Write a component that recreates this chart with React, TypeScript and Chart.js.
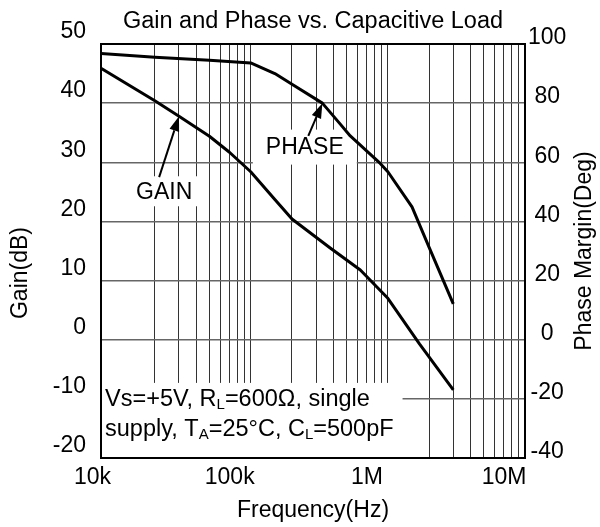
import React, { useEffect, useRef } from 'react';
import { Chart, registerables } from 'chart.js';

Chart.register(...registerables);

// ---- data ----
const FREQ_MIN = 8100;
const FREQ_MAX = 1e7;
const FREQ_GRID = [
  1e4, 2e4, 3e4, 4e4, 5e4, 6e4, 7e4, 8e4, 9e4,
  1e5, 2e5, 3e5, 4e5, 5e5, 6e5, 7e5, 8e5, 9e5,
  1e6, 2e6, 3e6, 4e6, 5e6, 6e6, 7e6, 8e6, 9e6, 1e7,
];
const FREQ_LABELS: Record<number, string> = { 10000: '10k', 100000: '100k', 1000000: '1M', 10000000: '10M' };
const GAIN_MIN = -20;
const GAIN_MAX = 50;
const PHASE_MIN = -40;
const PHASE_MAX = 100;

const gainFreq = [8100, 20000, 30000, 50000, 70000, 100000, 150000, 200000, 380000, 630000, 1000000, 1700000, 3000000];
const gainDb = [45.9, 40.4, 37.8, 34.4, 31.7, 28.4, 23.7, 20.4, 15.5, 11.8, 7.0, -0.7, -8.5];

const phaseFreq = [8100, 20000, 50000, 100000, 150000, 200000, 333000, 450000, 532000, 880000, 1000000, 1500000, 2000000, 3000000];
const phaseDeg = [96.8, 95.5, 94.5, 93.6, 90.0, 86.4, 80.0, 72.9, 68.9, 59.6, 56.8, 44.9, 31.2, 12.1];

const TITLE = 'Gain and Phase vs. Capacitive Load';
const X_TITLE = 'Frequency(Hz)';
const Y_TITLE = 'Gain(dB)';
const Y2_TITLE = 'Phase Margin(Deg)';

// annotation text
const NOTE_LINES: [string, boolean][][] = [
  [['Vs=+5V, R', false], ['L', true], ['=600Ω, single', false]],
  [['supply, T', false], ['A', true], ['=25°C, C', false], ['L', true], ['=500pF', false]],
];

const FONT = '"Liberation Sans", Arial, Helvetica, sans-serif';

function drawArrow(ctx: CanvasRenderingContext2D, x0: number, y0: number, x1: number, y1: number) {
  const ang = Math.atan2(y1 - y0, x1 - x0);
  const len = 15;
  const hw = 5;
  const bx = x1 - len * Math.cos(ang);
  const by = y1 - len * Math.sin(ang);
  ctx.strokeStyle = '#000';
  ctx.lineWidth = 2;
  ctx.beginPath();
  ctx.moveTo(x0, y0);
  ctx.lineTo(bx, by);
  ctx.stroke();
  ctx.fillStyle = '#000';
  ctx.beginPath();
  ctx.moveTo(x1, y1);
  ctx.lineTo(bx + hw * Math.sin(ang), by - hw * Math.cos(ang));
  ctx.lineTo(bx - hw * Math.sin(ang), by + hw * Math.cos(ang));
  ctx.closePath();
  ctx.fill();
}

const decorPlugin = {
  id: 'decor',
  beforeDatasetsDraw(chart: any) {
    const { ctx, chartArea: a, scales } = chart;
    const x = scales.x, y = scales.y, y1 = scales.y1;
    ctx.save();
    ctx.font = `23px ${FONT}`;
    ctx.textBaseline = 'middle';
    ctx.textAlign = 'center';

    // GAIN label
    const gx = x.getPixelForValue(23400), gy = y.getPixelForValue(25.1);
    const gw = ctx.measureText('GAIN').width;
    ctx.fillStyle = '#fff';
    ctx.fillRect(gx - gw / 2 - 16, gy - 15, gw + 32, 30);
    ctx.fillStyle = '#000';
    ctx.fillText('GAIN', gx, gy + 1);
    drawArrow(ctx, x.getPixelForValue(21500), y.getPixelForValue(27.5),
      x.getPixelForValue(gainFreq[2]), y.getPixelForValue(gainDb[2]));

    // PHASE label
    const px = x.getPixelForValue(248000), py = y1.getPixelForValue(65.3);
    const pw = ctx.measureText('PHASE').width;
    ctx.fillStyle = '#fff';
    ctx.fillRect(px - pw / 2 - 13, py - 17, pw + 26, 35);
    ctx.fillStyle = '#000';
    ctx.fillText('PHASE', px, py + 1);
    drawArrow(ctx, x.getPixelForValue(263000), y1.getPixelForValue(68.9),
      x.getPixelForValue(phaseFreq[6]), y1.getPixelForValue(phaseDeg[6]));

    // condition box
    const bxR = x.getPixelForValue(1280000);
    const byT = y.getPixelForValue(-7.3);
    ctx.fillStyle = '#fff';
    ctx.fillRect(a.left, byT, bxR - a.left, a.bottom - byT);
    ctx.fillStyle = '#000';
    ctx.textAlign = 'left';
    const lineVals = [-10.0, -15.0];
    NOTE_LINES.forEach((segs, i) => {
      let cx = x.getPixelForValue(8670);
      const cy = y.getPixelForValue(lineVals[i]);
      segs.forEach(([t, sub]) => {
        ctx.font = sub ? `15px ${FONT}` : `23.5px ${FONT}`;
        ctx.fillText(t, cx, sub ? cy + 6 : cy + 1);
        cx += ctx.measureText(t).width;
      });
    });

    // plot frame
    ctx.strokeStyle = '#000';
    ctx.lineWidth = 2;
    ctx.strokeRect(a.left, a.top, a.right - a.left, a.bottom - a.top);
    ctx.restore();
  },
  afterDraw(chart: any) {
    const { ctx, chartArea: a, scales } = chart;
    const midY = (a.top + a.bottom) / 2;
    ctx.save();
    ctx.font = `23px ${FONT}`;
    ctx.fillStyle = '#000';
    ctx.textAlign = 'center';
    ctx.textBaseline = 'middle';
    // right axis title (reads bottom to top)
    ctx.save();
    ctx.translate(scales.y1.right - 15, midY);
    ctx.rotate(-Math.PI / 2);
    ctx.fillText(Y2_TITLE, 0, 0);
    ctx.restore();
    // left axis title, sits a little below the middle
    ctx.save();
    ctx.translate(scales.y.left + 20.5, midY + 22);
    ctx.rotate(-Math.PI / 2);
    ctx.fillText(Y_TITLE, 0, 0);
    ctx.restore();
    ctx.restore();
  },
};

export default function App() {
  const ref = useRef<HTMLCanvasElement>(null);
  useEffect(() => {
    if (!ref.current) return;
    Chart.defaults.font.family = FONT;
    Chart.defaults.color = '#000';
    const chart = new Chart(ref.current, {
      type: 'line',
      data: {
        datasets: [
          {
            label: 'Gain',
            data: gainFreq.map((f, i) => ({ x: f, y: gainDb[i] })),
            yAxisID: 'y',
            borderColor: '#000',
            borderWidth: 3,
            pointRadius: 0,
            tension: 0,
            borderJoinStyle: 'round',
          },
          {
            label: 'Phase',
            data: phaseFreq.map((f, i) => ({ x: f, y: phaseDeg[i] })),
            yAxisID: 'y1',
            borderColor: '#000',
            borderWidth: 3,
            pointRadius: 0,
            tension: 0,
            borderJoinStyle: 'round',
          },
        ],
      },
      options: {
        responsive: false,
        animation: false,
        layout: { padding: 0 },
        plugins: {
          legend: { display: false },
          tooltip: { enabled: false },
          title: {
            display: true,
            fullSize: false,
            text: TITLE,
            color: '#000',
            font: { size: 23.5, weight: 'normal' },
            padding: { top: 7.5, bottom: 8.3 },
          },
        },
        scales: {
          x: {
            type: 'logarithmic',
            min: FREQ_MIN,
            max: FREQ_MAX,
            afterBuildTicks: (s: any) => { s.ticks = FREQ_GRID.map((v) => ({ value: v })); },
            afterFit: (s: any) => { s.height = 69; },
            border: { display: false },
            grid: {
              drawTicks: false,
              color: (c: any) => (c.tick && c.tick.value === 1e4 ? 'rgba(0,0,0,0)' : '#333'),
              lineWidth: 1,
            },
            ticks: {
              autoSkip: false,
              maxRotation: 0,
              padding: 5.7,
              labelOffset: -21,
              font: { size: 23 },
              color: '#000',
              callback: (v: any) => FREQ_LABELS[Number(v)] ?? '',
            },
            title: { display: true, text: X_TITLE, font: { size: 23 }, color: '#000', padding: { top: 0, bottom: 2.2 } },
          },
          y: {
            type: 'linear',
            position: 'left',
            min: GAIN_MIN,
            max: GAIN_MAX,
            afterFit: (s: any) => { s.width = 101; },
            border: { display: false },
            grid: { drawTicks: false, color: '#666', lineWidth: 1.5 },
            ticks: { stepSize: 10, padding: 15, labelOffset: -12, font: { size: 23 }, color: '#000' },
            title: { display: false },
          },
          y1: {
            type: 'linear',
            position: 'right',
            min: PHASE_MIN,
            max: PHASE_MAX,
            afterFit: (s: any) => { s.width = 75; },
            border: { display: false },
            grid: { display: false, drawTicks: false, drawOnChartArea: false },
            ticks: { stepSize: 20, padding: 3, crossAlign: 'center', labelOffset: -6, font: { size: 23 }, color: '#000' },
          },
        },
      },
      plugins: [decorPlugin],
    } as any);
    return () => chart.destroy();
  }, []);
  return (
    <div style={{ position: 'absolute', left: 0, top: 0, width: 600, height: 527, background: '#fff' }}>
      <canvas ref={ref} width={600} height={527} />
    </div>
  );
}
